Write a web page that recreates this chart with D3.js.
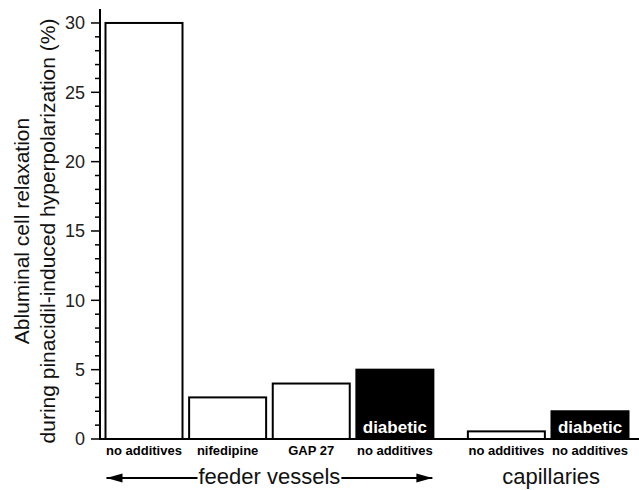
<!DOCTYPE html>
<html>
<head>
<meta charset="utf-8">
<script src="https://cdn.jsdelivr.net/npm/d3@7"></script>
<style>
  body { margin: 0; background: #fff; }
  text { font-family: "Liberation Sans", Arial, sans-serif; }
</style>
</head>
<body>
<svg id="svg" width="639" height="490"></svg>
<script>
const categories = ["no additives", "nifedipine", "GAP 27", "no additives", "no additives", "no additives"]
const values = [30, 3, 4, 5, 0.55, 2]
const groups = ["feeder vessels", "feeder vessels", "feeder vessels", "feeder vessels", "capillaries", "capillaries"]
const diabetic = [false, false, false, true, false, true]
const groupNames = ["feeder vessels", "capillaries"]
const yTicks = [0, 5, 10, 15, 20, 25, 30]
const yLabel = ["Abluminal cell relaxation", "during pinacidil-induced hyperpolarization (%)"]

const svg = d3.select("#svg")

// positions: index plus an extra gap before the second group
const pos = categories.map((_, i) => i + groupNames.indexOf(groups[i]) / 3)
const x = d3.scaleLinear([0, 5 + 1 / 3], [144, 590])
const y = d3.scaleLinear([0, 31], [439, 9.1])
const barW = 77

// bars
svg.selectAll("rect.bar").data(values).join("rect")
  .attr("class", "bar")
  .attr("x", (d, i) => x(pos[i]) - barW / 2)
  .attr("y", d => y(d))
  .attr("width", barW)
  .attr("height", d => y(0) - y(d))
  .attr("fill", (d, i) => diabetic[i] ? "#000" : "#fff")
  .attr("stroke", "#000")
  .attr("stroke-width", 2)

svg.selectAll("text.diab").data(values.map((d, i) => i).filter(i => diabetic[i])).join("text")
  .attr("class", "diab")
  .attr("x", i => x(pos[i]))
  .attr("y", y(0) - 6)
  .attr("text-anchor", "middle")
  .attr("fill", "#fff")
  .attr("font-weight", "bold")
  .attr("font-size", 17)
  .text("diabetic")

// y axis
const yAxis = svg.append("g").attr("transform", `translate(${x.range()[0] - 44},0)`)
yAxis.append("line").attr("x1", 0).attr("x2", 0).attr("y1", y(31)).attr("y2", y(0) + 1)
  .attr("stroke", "#000").attr("stroke-width", 2)
yAxis.selectAll("line.minor").data(d3.range(0, 31)).join("line")
  .attr("class", "minor")
  .attr("x1", d => d % 5 === 0 ? -9 : -5).attr("x2", 0)
  .attr("y1", d => y(d)).attr("y2", d => y(d))
  .attr("stroke", "#000").attr("stroke-width", 1.5)
yAxis.selectAll("text").data(yTicks).join("text")
  .attr("x", -15).attr("y", d => y(d))
  .attr("dy", "0.35em")
  .attr("text-anchor", "end")
  .attr("font-size", 18)
  .attr("fill", "#222")
  .text(d => d)

// x baseline
svg.append("line").attr("x1", 100).attr("x2", 639).attr("y1", y(0)).attr("y2", y(0))
  .attr("stroke", "#000").attr("stroke-width", 2)

// category labels
svg.selectAll("text.cat").data(categories).join("text")
  .attr("class", "cat")
  .attr("x", (d, i) => x(pos[i]))
  .attr("y", 455)
  .attr("text-anchor", "middle")
  .attr("font-weight", "bold")
  .attr("font-size", 13)
  .text(d => d)

// group labels with arrows
groupNames.forEach((g, gi) => {
  const idx = categories.map((_, i) => i).filter(i => groups[i] === g)
  const x0 = x(pos[idx[0]]) - barW / 2
  const x1 = x(pos[idx[idx.length - 1]]) + barW / 2
  const cx = (x0 + x1) / 2 + (gi === 0 ? 0 : 3)
  const t = svg.append("text")
    .attr("x", cx).attr("y", 484)
    .attr("text-anchor", "middle")
    .attr("font-size", 22)
    .attr("fill", "#111")
    .text(g)
  if (gi === 0) {
    const w = t.node().getComputedTextLength()
    const ay = 478
    const ends = [[x0 + 1, cx - w / 2 - 1, -1], [cx + w / 2 + 1, x1 - 1, 1]]
    ends.forEach(([a, b, dir]) => {
      svg.append("line").attr("x1", a).attr("x2", b).attr("y1", ay).attr("y2", ay)
        .attr("stroke", "#000").attr("stroke-width", 2)
      const tip = dir < 0 ? a : b
      svg.append("path")
        .attr("d", d3.line()([[tip, ay], [tip - dir * 16, ay - 4.5], [tip - dir * 16, ay + 4.5]]) + "Z")
        .attr("fill", "#000")
    })
  }
})

// y label
const yl = svg.append("text")
  .attr("transform", "translate(29,231) rotate(-90)")
  .attr("text-anchor", "middle")
  .attr("font-size", 21)
  .attr("fill", "#111")
yl.append("tspan").attr("x", 0).attr("y", 0).text(yLabel[0])
yl.append("tspan").attr("x", 0).attr("y", 26).text(yLabel[1])
</script>
</body>
</html>
